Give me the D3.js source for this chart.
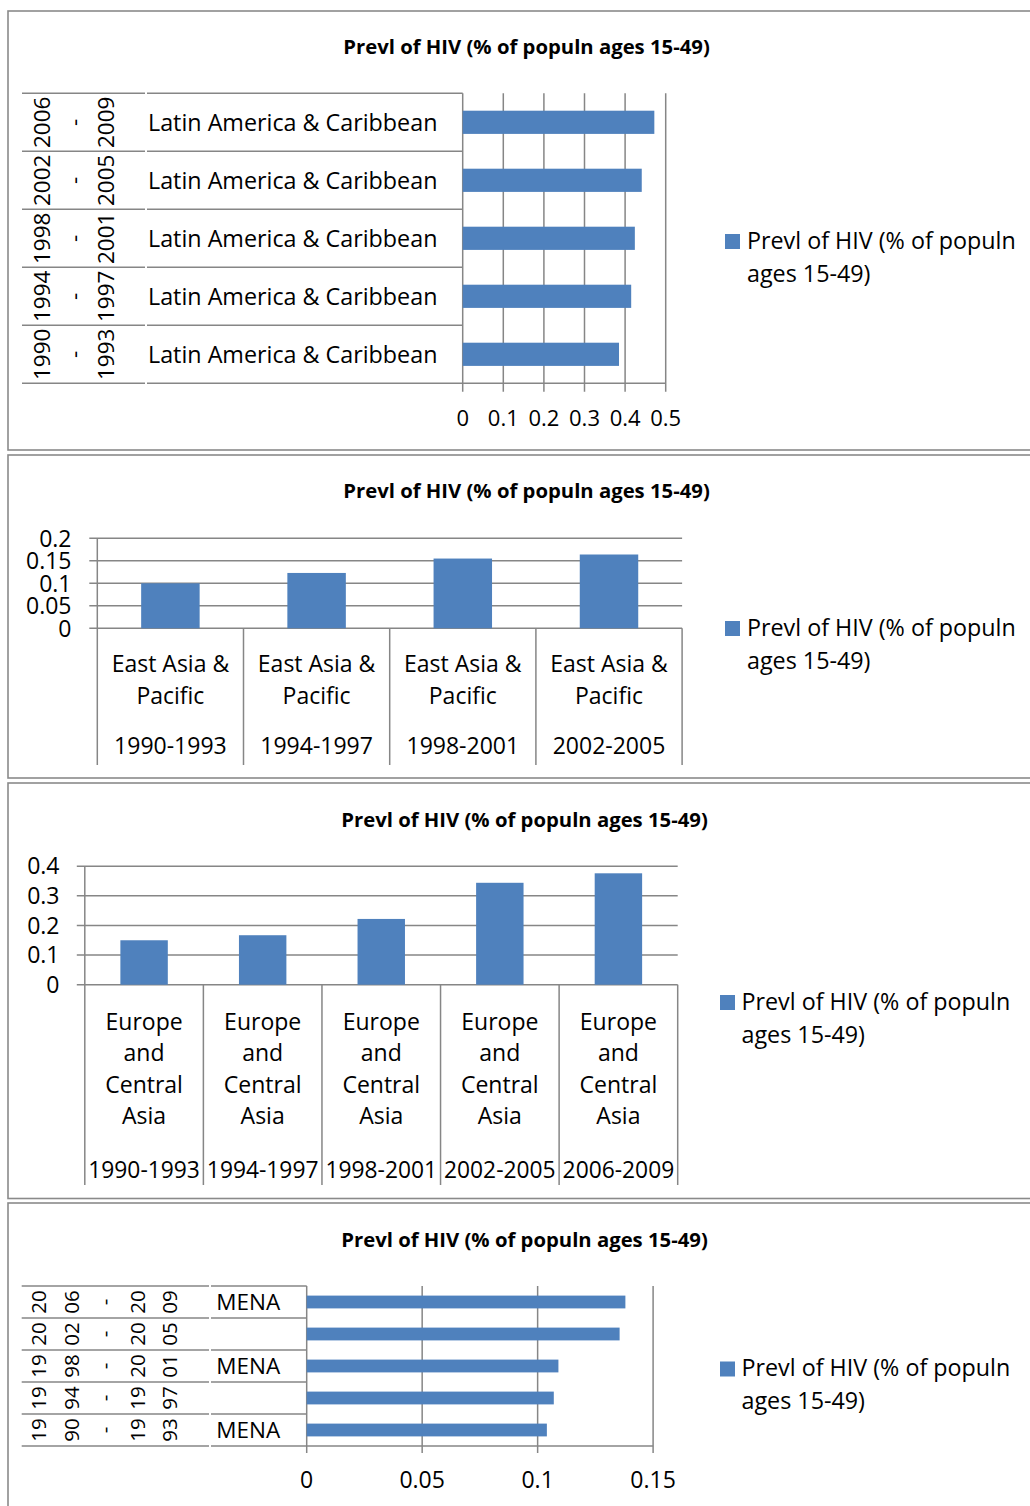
<!DOCTYPE html>
<html>
<head>
<meta charset="utf-8">
<script src="https://cdn.jsdelivr.net/npm/d3@7"></script>
<style>
  html, body { margin: 0; padding: 0; background: #fff; }
  svg { display: block; font-family: 'Open Sans', sans-serif; }
</style>
</head>
<body>
<script>
// ---------------- DATA ----------------
const chartTitle = "Prevl of HIV (% of populn ages 15-49)";
const legendLines = ["Prevl of HIV (% of populn", "ages 15-49)"];

const periods = ["1990-1993", "1994-1997", "1998-2001", "2002-2005", "2006-2009"];

const latamRegion = "Latin America & Caribbean";
const latamValues = [0.385, 0.415, 0.424, 0.441, 0.472];
const latamTicks = [0, 0.1, 0.2, 0.3, 0.4, 0.5];

const eapPeriods = ["1990-1993", "1994-1997", "1998-2001", "2002-2005"];
const eapRegionLines = ["East Asia &", "Pacific"];
const eapValues = [0.100, 0.123, 0.155, 0.164];
const eapTicks = [0, 0.05, 0.1, 0.15, 0.2];

const ecaRegionLines = ["Europe", "and", "Central", "Asia"];
const ecaValues = [0.150, 0.167, 0.222, 0.344, 0.376];
const ecaTicks = [0, 0.1, 0.2, 0.3, 0.4];

const menaRegion = "MENA";
const menaLabelShown = ["1990-1993", "1998-2001", "2006-2009"];
const menaValues = [0.104, 0.107, 0.109, 0.1355, 0.138];
const menaTicks = [0, 0.05, 0.1, 0.15];

// ---------------- STYLE ----------------
const BAR = "#4F81BD";
const GRID = "#868686";
const BORDER = "#8a8a8a";
const FONT_SIZE = 23;

const svg = d3.select("body").append("svg")
  .attr("width", 1030).attr("height", 1506);

function fmt(v) { return String(+v.toFixed(4)); }

function panelFrame(y0, y1) {
  svg.append("rect")
    .attr("x", 8).attr("y", y0)
    .attr("width", 1060).attr("height", y1 - y0)
    .attr("fill", "#fff").attr("stroke", BORDER).attr("stroke-width", 1.6);
}
function title(cx, baseline) {
  svg.append("text").attr("x", cx).attr("y", baseline)
    .attr("text-anchor", "middle").attr("font-weight", "bold")
    .attr("font-size", 20.3).attr("fill", "#000").text(chartTitle);
}
function legend(sx, sy, tx, baseline) {
  svg.append("rect").attr("x", sx).attr("y", sy).attr("width", 15).attr("height", 15).attr("fill", BAR);
  legendLines.forEach((l, i) => {
    svg.append("text").attr("x", tx).attr("y", baseline + i * 32.5)
      .attr("font-size", 23.3).attr("fill", "#000").text(l);
  });
}
function line(g, x1, y1, x2, y2) {
  g.append("line").attr("x1", x1).attr("y1", y1).attr("x2", x2).attr("y2", y2)
    .attr("stroke", GRID).attr("stroke-width", 1.5);
}

// ================= PANEL 1: Latin America (horizontal) =================
(function () {
  panelFrame(11, 450);
  title(526.5, 54);
  const g = svg.append("g");
  const x = d3.scaleLinear().domain([0, 0.5]).range([462.7, 665.7]);
  const order = periods.slice().reverse();
  const yCat = d3.scaleBand().domain(order).range([93.3, 383.3]).padding(0);
  const yBar = d3.scaleBand().domain(order).range([93.3, 383.3]).paddingInner(0.6).paddingOuter(0.3);

  latamTicks.forEach(t => line(g, x(t), 93.3, x(t), 391.7));
  const bounds = order.map(d => yCat(d)).concat([383.3]);
  bounds.forEach(b => {
    line(g, 22, b, 145, b);
    line(g, 147, b, x(0), b);
  });
  line(g, x(0), 383.3, x(0.5), 383.3);

  g.selectAll(".bar").data(periods.map((p, i) => ({ p, v: latamValues[i] })))
    .join("rect").attr("x", x(0)).attr("y", d => yBar(d.p))
    .attr("width", d => x(d.v) - x(0)).attr("height", yBar.bandwidth())
    .attr("fill", BAR);

  order.forEach(p => {
    g.append("text").attr("x", 148).attr("y", yCat(p) + yCat.bandwidth() / 2)
      .attr("dy", "0.36em").attr("font-size", 23.3).text(latamRegion);
    const parts = p.split("-");
    const linesTxt = [parts[0], "-", parts[1]];
    const rg = g.append("g").attr("transform",
      `translate(73.75,${yCat(p) + yCat.bandwidth() / 2}) rotate(-90)`);
    linesTxt.forEach((t, i) => {
      rg.append("text").attr("x", 0).attr("y", (i - 1) * 32)
        .attr("dy", "0.36em").attr("text-anchor", "middle")
        .attr("font-size", 22.5).text(t);
    });
  });

  latamTicks.forEach(t => {
    g.append("text").attr("x", x(t)).attr("y", 426)
      .attr("text-anchor", "middle").attr("font-size", 22).text(fmt(t));
  });
  legend(725, 234, 747, 249);
})();

// ================= PANEL 2: East Asia & Pacific (columns) =================
(function () {
  panelFrame(455, 778);
  title(526.5, 498);
  const g = svg.append("g");
  const xCat = d3.scaleBand().domain(eapPeriods).range([97.3, 682.1]).padding(0);
  const xBar = d3.scaleBand().domain(eapPeriods).range([97.3, 682.1]).paddingInner(0.6).paddingOuter(0.3);
  const y = d3.scaleLinear().domain([0, 0.2]).range([628.3, 538.3]);

  eapTicks.forEach(t => line(g, 89.3, y(t), 682.1, y(t)));
  line(g, 97.3, y(0.2), 97.3, 765);
  eapPeriods.forEach(p => line(g, xCat(p) + xCat.bandwidth(), y(0), xCat(p) + xCat.bandwidth(), 765));

  g.selectAll(".bar").data(eapPeriods.map((p, i) => ({ p, v: eapValues[i] })))
    .join("rect").attr("x", d => xBar(d.p)).attr("y", d => y(d.v))
    .attr("width", xBar.bandwidth()).attr("height", d => y(0) - y(d.v))
    .attr("fill", BAR);

  eapTicks.forEach(t => {
    g.append("text").attr("x", 71.5).attr("y", y(t)).attr("dy", "0.36em")
      .attr("text-anchor", "end").attr("font-size", FONT_SIZE).text(fmt(t));
  });
  eapPeriods.forEach(p => {
    const cx = xCat(p) + xCat.bandwidth() / 2;
    const bl = [671.7, 704.3];
    eapRegionLines.forEach((l, i) => {
      g.append("text").attr("x", cx).attr("y", bl[i]).attr("text-anchor", "middle")
        .attr("font-size", FONT_SIZE).text(l);
    });
    g.append("text").attr("x", cx).attr("y", 754).attr("text-anchor", "middle")
      .attr("font-size", FONT_SIZE).text(p);
  });
  legend(725, 621, 747, 636);
})();

// ================= PANEL 3: Europe & Central Asia (columns) =================
(function () {
  panelFrame(783, 1198.5);
  title(524.5, 826.5);
  const g = svg.append("g");
  const xCat = d3.scaleBand().domain(periods).range([84.8, 677.7]).padding(0);
  const xBar = d3.scaleBand().domain(periods).range([84.8, 677.7]).paddingInner(0.6).paddingOuter(0.3);
  const y = d3.scaleLinear().domain([0, 0.4]).range([984.7, 866.2]);

  ecaTicks.forEach(t => line(g, 76.8, y(t), 677.7, y(t)));
  line(g, 84.8, y(0.4), 84.8, 1185);
  periods.forEach(p => line(g, xCat(p) + xCat.bandwidth(), y(0), xCat(p) + xCat.bandwidth(), 1185));

  g.selectAll(".bar").data(periods.map((p, i) => ({ p, v: ecaValues[i] })))
    .join("rect").attr("x", d => xBar(d.p)).attr("y", d => y(d.v))
    .attr("width", xBar.bandwidth()).attr("height", d => y(0) - y(d.v))
    .attr("fill", BAR);

  ecaTicks.forEach(t => {
    g.append("text").attr("x", 59.5).attr("y", y(t)).attr("dy", "0.36em")
      .attr("text-anchor", "end").attr("font-size", FONT_SIZE).text(fmt(t));
  });
  periods.forEach(p => {
    const cx = xCat(p) + xCat.bandwidth() / 2;
    const bl = [1030, 1061.3, 1092.6, 1123.8];
    ecaRegionLines.forEach((l, i) => {
      g.append("text").attr("x", cx).attr("y", bl[i]).attr("text-anchor", "middle")
        .attr("font-size", FONT_SIZE).text(l);
    });
    g.append("text").attr("x", cx).attr("y", 1178).attr("text-anchor", "middle")
      .attr("font-size", 22.8).text(p);
  });
  legend(720, 995, 741.5, 1010);
})();

// ================= PANEL 4: MENA (horizontal) =================
(function () {
  panelFrame(1203, 1530);
  title(524.5, 1246.5);
  const g = svg.append("g");
  const x = d3.scaleLinear().domain([0, 0.15]).range([306.7, 653.1]);
  const order = periods.slice().reverse();
  const yCat = d3.scaleBand().domain(order).range([1286, 1446]).padding(0);
  const yBar = d3.scaleBand().domain(order).range([1286, 1446]).paddingInner(0.6).paddingOuter(0.3);

  menaTicks.forEach(t => line(g, x(t), 1286, x(t), 1453));
  const bounds = order.map(d => yCat(d)).concat([1446]);
  bounds.forEach(b => {
    line(g, 21.7, b, 209, b);
    line(g, 211, b, x(0), b);
  });
  line(g, x(0), 1446, x(0.15), 1446);

  g.selectAll(".bar").data(periods.map((p, i) => ({ p, v: menaValues[i] })))
    .join("rect").attr("x", x(0)).attr("y", d => yBar(d.p))
    .attr("width", d => x(d.v) - x(0)).attr("height", yBar.bandwidth())
    .attr("fill", BAR);

  order.forEach(p => {
    const cy = yCat(p) + yCat.bandwidth() / 2;
    if (menaLabelShown.includes(p)) {
      g.append("text").attr("x", 248.3).attr("y", cy).attr("dy", "0.36em")
        .attr("text-anchor", "middle").attr("font-size", 22.5).text(menaRegion);
    }
    const parts = p.split("-");
    const linesTxt = [parts[0].slice(0, 2), parts[0].slice(2), "-", parts[1].slice(0, 2), parts[1].slice(2)];
    const rg = g.append("g").attr("transform", `translate(104.5,${cy}) rotate(-90)`);
    linesTxt.forEach((t, i) => {
      rg.append("text").attr("x", 0).attr("y", (i - 2) * 32.7)
        .attr("dy", "0.36em").attr("text-anchor", "middle")
        .attr("font-size", 20.5).text(t);
    });
  });

  menaTicks.forEach(t => {
    g.append("text").attr("x", x(t)).attr("y", 1488)
      .attr("text-anchor", "middle").attr("font-size", FONT_SIZE).text(fmt(t));
  });
  legend(720, 1361.5, 741.5, 1376);
})();
</script>
</body>
</html>
